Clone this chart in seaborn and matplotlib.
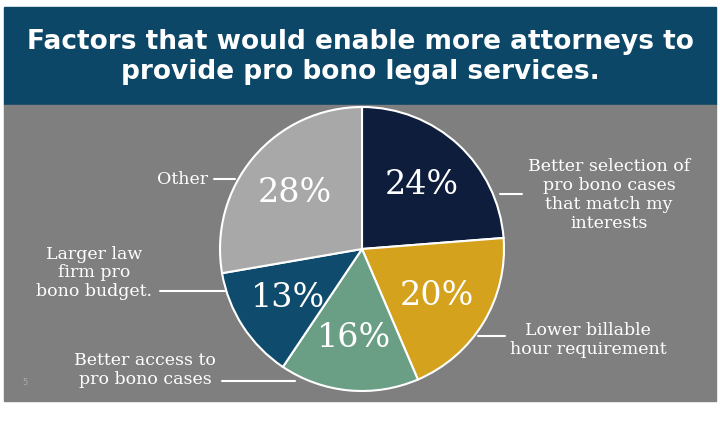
import matplotlib.pyplot as plt
import seaborn as sns
from matplotlib.patches import Rectangle

sns.set_theme(style="white")
plt.rcParams['font.family'] = ['DejaVu Sans']

labels = ["Better selection of\npro bono cases\nthat match my\ninterests",
          "Lower billable\nhour requirement",
          "Better access to\npro bono cases",
          "Larger law\nfirm pro\nbono budget.",
          "Other"]
values = [24, 20, 16, 13, 28]
colors = ["#0e1d3c", "#d5a21e", "#6a9f86", "#0f4b6c", "#a8a8a8"]
title = "Factors that would enable more attorneys to\nprovide pro bono legal services."

fig = plt.figure(figsize=(7.2, 4.31), dpi=100)
fig.patch.set_facecolor("white")
bg = fig.add_axes([0, 0, 1, 1])
bg.set_xlim(0, 720); bg.set_ylim(431, 0); bg.axis("off")
bg.add_patch(Rectangle((4, 8), 712, 98, color="#0d4767"))
bg.add_patch(Rectangle((4, 106), 712, 296, color="#7f7f7f"))
bg.text(360, 57, title, color="white", fontsize=19, fontweight="bold",
        ha="center", va="center", linespacing=1.2)
bg.text(22, 385, "5", color="#aaaaaa", fontsize=6)

# pie axes: center (362, 250), radius 142 px
r = 142
ax = fig.add_axes([(362 - r) / 720, (431 - 250 - r) / 431, 2 * r / 720, 2 * r / 431])
ax.pie(values, colors=colors, startangle=90, counterclock=False,
       wedgeprops=dict(edgecolor="white", linewidth=1.5),
       autopct=lambda p: f"{round(p * sum(values) / 100):.0f}%", pctdistance=0.62,
       textprops=dict(color="white", fontsize=24, family="DejaVu Serif"))
ax.set_xlim(-1, 1); ax.set_ylim(-1, 1)
ax.set_aspect("auto")

serif = dict(color="white", fontsize=12.5, family="DejaVu Serif", linespacing=1.15,
             multialignment="center")
bg.text(528, 195, labels[0], ha="left", va="center", **serif)
bg.plot([500, 522], [195, 195], color="white", lw=1.5)
bg.text(510, 340, labels[1], ha="left", va="center", **serif)
bg.plot([478, 505], [337, 337], color="white", lw=1.5)
bg.text(216, 370, labels[2], ha="right", va="center", **serif)
bg.plot([222, 295], [382, 382], color="white", lw=1.5)
bg.text(152, 273, labels[3], ha="right", va="center", **serif)
bg.plot([160, 225], [292, 292], color="white", lw=1.5)
bg.text(208, 180, labels[4], ha="right", va="center", **serif)
bg.plot([214, 235], [180, 180], color="white", lw=1.5)

fig.savefig("out.png", dpi=100)
